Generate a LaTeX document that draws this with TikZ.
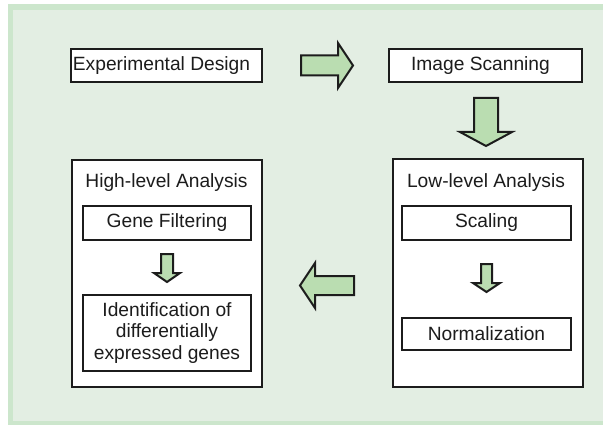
\documentclass[tikz,border=0pt]{standalone}
\usepackage{fontspec}
\setmainfont{Liberation Sans}
\usetikzlibrary{calc}

\definecolor{panelband}{RGB}{204,230,204}
\definecolor{panelfill}{RGB}{227,238,227}
\definecolor{arrowfill}{RGB}{186,221,177}
\definecolor{ink}{RGB}{28,28,28}

% block arrow: from, to, half shaft width, half head width, head length
\newcommand\blockarrow[5]{%
  \path ($(#2)!#5!(#1)$) coordinate (bh);
  \draw[barrow] ($(#1)!#3!90:(#2)$) -- ($(bh)!#3!90:(#2)$) -- ($(bh)!#4!90:(#2)$)
    -- (#2) -- ($(bh)!#4!-90:(#2)$) -- ($(bh)!#3!-90:(#2)$) -- ($(#1)!#3!-90:(#2)$) -- cycle;
}

\begin{document}
\begin{tikzpicture}[x=1pt,y=-1pt,
  every node/.style={font=\fontsize{19.2}{21.7}\selectfont, text=ink},
  box/.style={draw=ink, line width=2pt, fill=white, inner sep=0pt, align=center},
  title/.style={inner sep=0pt},
  barrow/.style={draw=ink, line width=2pt, fill=arrowfill, line join=miter}]
  \useasboundingbox (0,0) rectangle (603,425);

  % panel background with its light green border
  \fill[panelband] (8,4) rectangle (610,430);
  \fill[panelfill] (13,10) rectangle (610,421);

  % top row
  \node[box, minimum width=191pt, minimum height=33pt] (ed) at (166.5,65.5) {Experimental Design\kern10pt};
  \node[box, minimum width=193pt, minimum height=33pt] (is) at (485.5,65.5) {Image Scanning\kern10pt};

  % low-level analysis group
  \node[box, minimum width=190pt, minimum height=228pt] (low) at (488,273) {};
  \node[title] (lowt) at (486,183) {Low-level Analysis};
  \node[box, minimum width=169pt, minimum height=34pt] (sc) at (486.5,223) {Scaling};
  \node[box, minimum width=169pt, minimum height=32pt] (nm) at (486.5,334) {Normalization};

  % high-level analysis group
  \node[box, minimum width=190pt, minimum height=227pt] (high) at (167,273.5) {};
  \node[title] (hight) at (166.5,183) {High-level Analysis};
  \node[box, minimum width=168pt, minimum height=34pt] (gf) at (167,223) {Gene Filtering};
  \node[box, minimum width=168pt, minimum height=76pt] (id) at (167,333)
    {Identification of\\differentially\\expressed genes};

  % connector end points
  \coordinate (r1) at ($(ed.east)+(38,0)$);
  \coordinate (r2) at ($(is.west)-(35,0)$);
  \coordinate (d1) at ($(is.south)+(0.5,15)$);
  \coordinate (d2) at ($(low.north)+(-2,-12)$);
  \coordinate (l1) at ($(low.west |- 0,285.5)-(38,0)$);
  \coordinate (l2) at ($(high.east |- 0,285.5)+(37,0)$);
  \coordinate (s1) at ($(sc.south)+(0,23)$);
  \coordinate (s2) at ($(nm.north)-(0,25)$);
  \coordinate (g1) at ($(gf.south)+(0,13)$);
  \coordinate (g2) at ($(id.north)-(0,12)$);

  % block arrows
  \blockarrow{r1}{r2}{10pt}{22.5pt}{15pt}
  \blockarrow{d1}{d2}{12pt}{26pt}{14pt}
  \blockarrow{l1}{l2}{9.5pt}{22.5pt}{15pt}
  \blockarrow{s1}{s2}{5.5pt}{13.5pt}{9pt}
  \blockarrow{g1}{g2}{6pt}{13pt}{9pt}
\end{tikzpicture}
\end{document}
